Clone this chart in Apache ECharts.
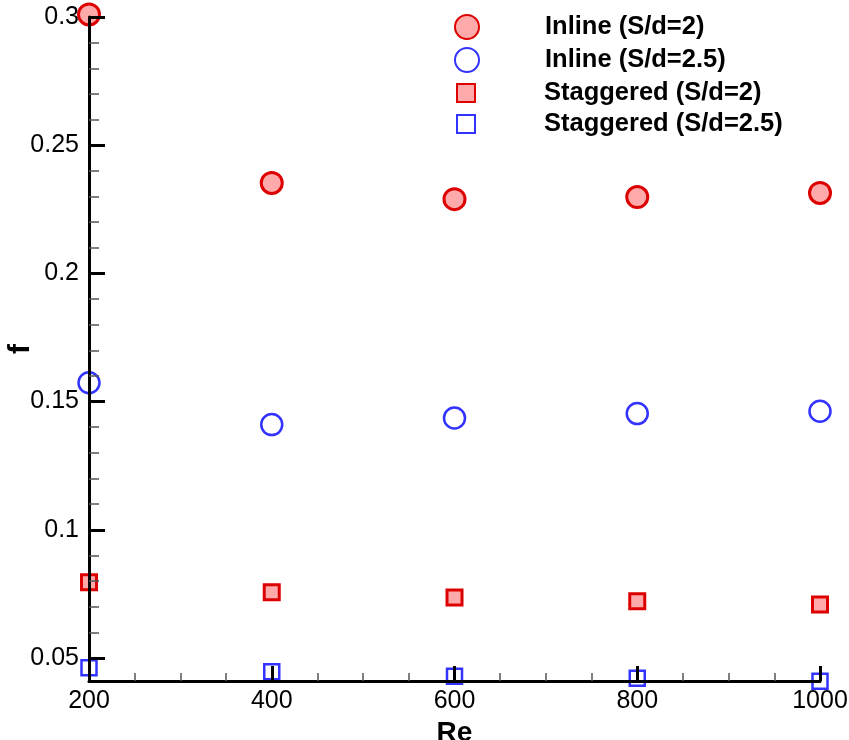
<!DOCTYPE html>
<html>
<head>
<meta charset="utf-8">
<script src="https://cdn.jsdelivr.net/npm/echarts@6/dist/echarts.min.js"></script>
<style>
html,body{margin:0;padding:0;background:#fff;}
#chart{width:849px;height:740px;}
</style>
</head>
<body>
<div id="chart"></div>
<script>
// ---- data ----
var reValues = [200, 400, 600, 800, 1000];
var inlineSd2 = [0.301, 0.2353, 0.2290, 0.2298, 0.2314];
var inlineSd25 = [0.1574, 0.1411, 0.1437, 0.1454, 0.1463];
var staggeredSd2 = [0.0796, 0.0757, 0.0737, 0.0722, 0.0710];
var staggeredSd25 = [0.0463, 0.0448, 0.0430, 0.0422, 0.0411];
var seriesNames = ['Inline (S/d=2)', 'Inline (S/d=2.5)', 'Staggered (S/d=2)', 'Staggered (S/d=2.5)'];

function pairs(ys) { return reValues.map(function (x, i) { return [x, ys[i]]; }); }

var RED = '#dd0000', RED_FILL = '#ffaaaa', BLUE = '#3333ff';
var FONT = '"Liberation Sans", Arial, sans-serif';

function legendFor(name, left, top, size, gap) {
  return {
    data: [name],
    left: left, top: top, padding: 0,
    itemWidth: size, itemHeight: size,
    selectedMode: false,
    formatter: function (n) { return '{g|}{t|' + n + '}'; },
    textStyle: {
      rich: {
        g: { width: gap },
        t: { fontFamily: FONT, fontSize: 25.5, fontWeight: 'bold', color: '#000' }
      }
    }
  };
}

var chart = echarts.init(document.getElementById('chart'));
chart.setOption({
  animation: false,
  backgroundColor: '#fff',
  legend: [
    legendFor(seriesNames[0], 454, 14, 24, 61),
    legendFor(seriesNames[1], 454, 47, 24, 61),
    legendFor(seriesNames[2], 456, 80, 18, 64),
    legendFor(seriesNames[3], 456, 111, 18, 64)
  ],
  grid: [
    { left: 89, right: 29, top: 17, bottom: 59, outerBoundsMode: 'none', containLabel: false },
    { left: 89, right: 29, top: 17, bottom: 82, outerBoundsMode: 'none', containLabel: false }
  ],
  xAxis: [
    {
      gridIndex: 0, type: 'value', min: 200, max: 1000, interval: 200, z: 10,
      name: 'Re', nameLocation: 'middle', nameGap: 22,
      nameTextStyle: { fontFamily: FONT, fontSize: 28, fontWeight: 'bold', color: '#000' },
      axisLine: { show: true, lineStyle: { color: '#000', width: 3 } },
      axisTick: { show: true, inside: true, length: 15, lineStyle: { color: '#000', width: 3 } },
      minorTick: { show: true, splitNumber: 4, length: 8, lineStyle: { color: '#555', width: 1.5 } },
      axisLabel: { fontFamily: FONT, fontSize: 25, color: '#000', margin: 8, formatter: function (v) { return String(v); } },
      splitLine: { show: false }
    },
    { gridIndex: 1, type: 'value', min: 0, max: 1, show: false }
  ],
  yAxis: [
    {
      gridIndex: 0, type: 'value', min: 0.04115, max: 0.3, z: 10,
      name: 'f', nameLocation: 'middle', nameGap: 53, nameRotate: 90,
      nameTextStyle: { fontFamily: FONT, fontSize: 30, fontWeight: 'bold', color: '#000' },
      axisLine: { show: true, lineStyle: { color: '#000', width: 3 } },
      axisTick: { show: false },
      axisLabel: { show: false },
      splitLine: { show: false }
    },
    {
      gridIndex: 1, type: 'value', min: 0.05, max: 0.3, interval: 0.05, z: 10,
      axisLine: { show: false },
      axisTick: { show: true, inside: true, length: 16, lineStyle: { color: '#000', width: 3 } },
      minorTick: { show: true, splitNumber: 5, length: 10, lineStyle: { color: '#555', width: 1.5 } },
      axisLabel: { fontFamily: FONT, fontSize: 25, color: '#000', margin: 10 },
      splitLine: { show: false }
    }
  ],
  series: [
    {
      name: seriesNames[0], type: 'scatter', xAxisIndex: 0, yAxisIndex: 0, clip: false,
      symbol: 'circle', symbolSize: 21,
      itemStyle: { color: RED_FILL, borderColor: RED, borderWidth: 3, opacity: 1 },
      data: pairs(inlineSd2)
    },
    {
      name: seriesNames[1], type: 'scatter', xAxisIndex: 0, yAxisIndex: 0, clip: false,
      symbol: 'circle', symbolSize: 21,
      itemStyle: { color: '#ffffff', borderColor: BLUE, borderWidth: 2.5, opacity: 1 },
      data: pairs(inlineSd25)
    },
    {
      name: seriesNames[2], type: 'scatter', xAxisIndex: 0, yAxisIndex: 0, clip: false,
      symbol: 'rect', symbolSize: 15,
      itemStyle: { color: RED_FILL, borderColor: RED, borderWidth: 3, opacity: 1 },
      data: pairs(staggeredSd2)
    },
    {
      name: seriesNames[3], type: 'scatter', xAxisIndex: 0, yAxisIndex: 0, clip: false,
      symbol: 'rect', symbolSize: 15,
      itemStyle: { color: 'rgba(255,255,255,0)', borderColor: BLUE, borderWidth: 2.5, opacity: 1 },
      data: pairs(staggeredSd25)
    }
  ]
});
</script>
</body>
</html>
